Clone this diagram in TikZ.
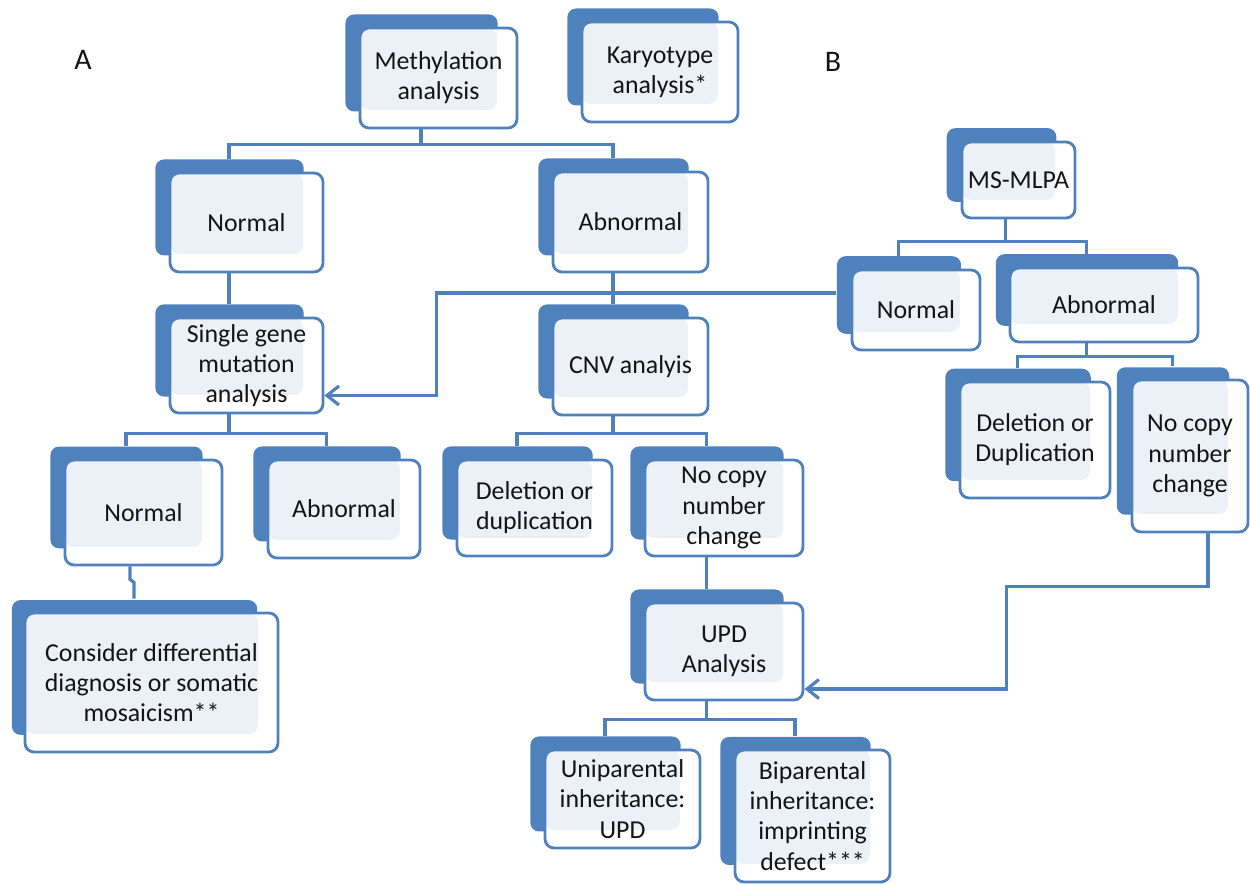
\documentclass[tikz,border=0pt]{standalone}
\usepackage{fontspec}
\setmainfont{Carlito}
\usepackage{tikz}
\usetikzlibrary{calc,shadows,arrows.meta}

\definecolor{boxblue}{RGB}{79,129,189}
\definecolor{boxfill}{RGB}{236,241,248}
\definecolor{txt}{RGB}{20,20,20}

\tikzset{
  box/.style={draw=boxblue, line width=1.6pt, fill=white, rounded corners=0.18cm,
    align=center, text=txt, inner sep=0pt, font=\fontsize{14.7}{17.2}\selectfont,
    general shadow={fill=boxblue, shadow scale=0.97, shadow xshift=-0.35cm, shadow yshift=0.31cm},
    path picture={\fill[boxfill, rounded corners=0.18cm] (path picture bounding box.north west)
      rectangle ([xshift=-0.4cm,yshift=0.36cm]path picture bounding box.south east);}},
  conn/.style={draw=boxblue, line width=1.8pt},
  arr/.style={conn, -{Straight Barb[length=0.24cm,width=0.38cm]}},
  lbl/.style={font=\fontsize{17}{20}\selectfont, text=txt}
}

\begin{document}
\begin{tikzpicture}[x=0.02cm, y=-0.02cm]
\useasboundingbox (0,0) rectangle (1250,885);

% panel labels
\node[lbl] (labA) at (83,60) {A};
\node[lbl] (labB) at (833,62) {B};

% A: boxes
\node[box, minimum width=3.14cm, minimum height=2.0cm] (meth) at (438.5,78) {Methylation\\analysis};
\node[box, minimum width=3.12cm, minimum height=2.0cm] (karyo) at (660,72) {Karyotype\\analysis*};
\node[box, minimum width=3.06cm, minimum height=1.98cm] (normA) at (246.5,222.5) {Normal};
\node[box, minimum width=3.1cm, minimum height=2.0cm] (abnA) at (630.5,222) {Abnormal};
\node[box, minimum width=3.06cm, minimum height=1.9cm] (single) at (246.5,365.5) {Single gene\\mutation\\analysis};
\node[box, minimum width=3.1cm, minimum height=1.94cm] (cnv) at (630.5,366.5) {CNV analyis};
\node[box, minimum width=3.14cm, minimum height=2.1cm] (normA2) at (143.5,512.5) {Normal};
\node[box, minimum width=3.04cm, minimum height=1.96cm] (abnA2) at (344,509) {Abnormal};
\node[box, minimum width=5.06cm, minimum height=2.78cm] (consider) at (151.5,682.5) {Consider differential\\diagnosis or somatic\\mosaicism**};
\node[box, minimum width=3.1cm, minimum height=1.92cm] (del) at (534.5,508) {Deletion or\\duplication};
\node[box, minimum width=3.16cm, minimum height=1.92cm] (nocopy) at (724,508) {No copy\\number\\change};
\node[box, minimum width=3.16cm, minimum height=1.94cm] (upd) at (724,651.5) {UPD\\Analysis};
\node[box, minimum width=3.1cm, minimum height=1.96cm] (uni) at (622.5,799) {Uniparental\\inheritance:\\UPD};
\node[box, minimum width=3.1cm, minimum height=2.64cm] (bi) at (812.5,816) {Biparental\\inheritance:\\imprinting\\defect***};

% B: boxes
\node[box, minimum width=2.26cm, minimum height=1.52cm] (mlpa) at (1018.5,180) {MS-MLPA};
\node[box, minimum width=2.56cm, minimum height=1.6cm] (normB) at (916,310) {Normal};
\node[box, minimum width=3.76cm, minimum height=1.48cm] (abnB) at (1104,305) {Abnormal};
\node[box, minimum width=3.0cm, minimum height=2.32cm] (delB) at (1035,440) {Deletion or\\Duplication};
\node[box, minimum width=2.32cm, minimum height=3.04cm] (nocopyB) at (1190,456) {No copy\\number\\change};

% A: connectors
\draw[conn] ($(meth.south)+(-17.5,0)$) -- ++(0,15) -| ($(normA.north)+(-17.5,-13)$);
\draw[conn] ($(meth.south)+(-17.5,15)$) -| ($(abnA.north)+(-17.5,-13)$);
\draw[conn] ($(normA.south)+(-17.5,0)$) -- ($(single.north)+(-17.5,-13)$);
\draw[conn] ($(abnA.south)+(-17.5,0)$) -- ($(cnv.north)+(-17.5,-13)$);
\draw[conn] ($(single.south)+(-17.5,0)$) -- ++(0,19) -| ($(normA2.north)+(-17.5,-13)$);
\draw[conn] ($(single.south)+(-17.5,19)$) -| ($(abnA2.north)+(-17.5,-13)$);
\draw[conn] ($(normA2.south)+(-13.5,0)$) -- ++(0,13) -- ++(4,3) -- ($(consider.north)+(-17.5,-13)$);
\draw[conn] ($(cnv.south)+(-17.5,0)$) -- ++(0,17) -| ($(del.north)+(-17.5,-13)$);
\draw[conn] ($(cnv.south)+(-17.5,17)$) -| ($(nocopy.north)+(-17.5,-13)$);
\draw[conn] ($(nocopy.south)+(-17.5,0)$) -- ($(upd.north)+(-17.5,-13)$);
\draw[conn] ($(upd.south)+(-17.5,0)$) -- ++(0,18) -| ($(uni.north)+(-17.5,-13)$);
\draw[conn] ($(upd.south)+(-17.5,18)$) -| ($(bi.north)+(-17.5,-13)$);

% B: connectors
\draw[conn] ($(mlpa.south)+(-13,0)$) -- ++(0,22) -| ($(normB.north)+(-17.5,-13)$);
\draw[conn] ($(mlpa.south)+(-13,22)$) -| ($(abnB.north)+(-17.5,-13)$);
\draw[conn] ($(abnB.south)+(-17.5,0)$) -- ++(0,13) -| ($(delB.north)+(-17.5,-13)$);
\draw[conn] ($(abnB.south)+(-17.5,13)$) -| ($(nocopyB.north)+(-17.5,-13)$);

% cross links
\draw[arr] ($(normB.west)+(-15,-17)$) -| ($(single.east)+(112,30)$) -- ($(single.east)+(0,30)$);
\draw[arr] ($(nocopyB.south)+(18,0)$) -- ++(0,53) -| ($(upd.east)+(202,37.5)$) -- ($(upd.east)+(0,37.5)$);
\end{tikzpicture}
\end{document}
